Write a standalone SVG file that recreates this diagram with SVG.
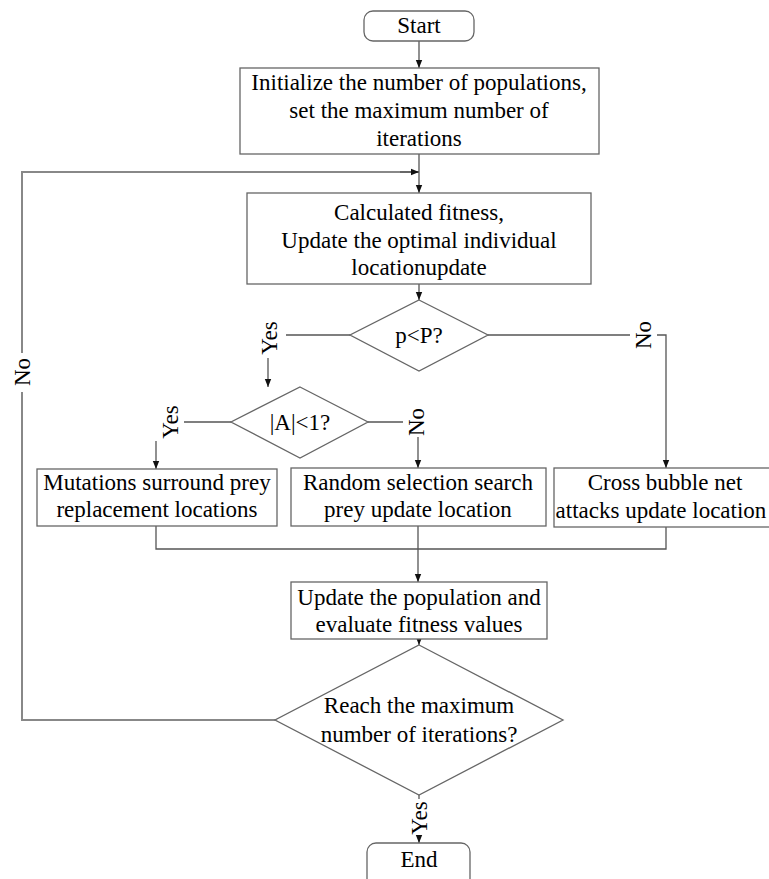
<svg xmlns="http://www.w3.org/2000/svg" width="769" height="879" viewBox="0 0 769 879">
<style>
.n{fill:#fff;stroke:#666;stroke-width:1.3}
.t{font-family:"Liberation Serif",serif;font-size:23px;fill:#000;text-anchor:middle}
.c{fill:none;stroke:#555;stroke-width:1.3}
.lp{fill:none;stroke:#888;stroke-width:2}
</style>
<defs>
<marker id="a" viewBox="0 0 10 10" refX="10" refY="5" markerWidth="8" markerHeight="8" markerUnits="userSpaceOnUse" orient="auto">
<path d="M0,1 L10,5 L0,9 z" fill="#111"/>
</marker>
</defs>
<g id="connectors">
<line class="c" x1="419" y1="41" x2="419" y2="68" marker-end="url(#a)"/>
<line class="c" x1="419" y1="154" x2="419" y2="193" marker-end="url(#a)"/>
<line class="c" x1="419" y1="284" x2="419" y2="300" marker-end="url(#a)"/>
<polyline class="c" points="350,335 286,335"/>
<line class="c" x1="268" y1="358" x2="268" y2="387" marker-end="url(#a)"/>
<polyline class="c" points="488,335 630,335"/>
<polyline class="c" points="657,335 666,335 666,468" marker-end="url(#a)"/>
<polyline class="c" points="231,422 184,422"/>
<line class="c" x1="156" y1="441" x2="156" y2="469" marker-end="url(#a)"/>
<polyline class="c" points="368,422 403,422"/>
<line class="c" x1="418" y1="437" x2="418" y2="468" marker-end="url(#a)"/>
<polyline class="c" points="156,526 156,549 666,549 666,527"/>
<line class="c" x1="418" y1="526" x2="418" y2="582" marker-end="url(#a)"/>
<line class="c" x1="419" y1="639" x2="419" y2="645" marker-end="url(#a)"/>
<polyline class="lp" points="275,720 22,720 22,392"/>
<polyline class="lp" points="22,353 22,172 419,172"/>
<line class="c" x1="400" y1="172" x2="419" y2="172" marker-end="url(#a)"/>
<line class="c" x1="419" y1="795" x2="419" y2="799"/>
<line class="c" x1="419" y1="836" x2="419" y2="843" marker-end="url(#a)"/>
<text class="t" transform="translate(277,338) rotate(-90)">Yes</text>
<text class="t" transform="translate(651,335) rotate(-90)">No</text>
<text class="t" transform="translate(178,422) rotate(-90)">Yes</text>
<text class="t" transform="translate(424,422) rotate(-90)">No</text>
<text class="t" transform="translate(30,372) rotate(-90)">No</text>
<text class="t" transform="translate(427,818) rotate(-90)">Yes</text>
</g>
<g id="start">
<rect class="n" x="364" y="11" width="110" height="30" rx="9"/>
<text class="t" x="419" y="33">Start</text>
</g>
<g id="init">
<rect class="n" x="240" y="68" width="359" height="86"/>
<text class="t" x="419" y="90">Initialize the number of populations,</text>
<text class="t" x="419" y="118">set the maximum number of</text>
<text class="t" x="419" y="146">iterations</text>
</g>
<g id="calc">
<rect class="n" x="247" y="193" width="344" height="91"/>
<text class="t" x="419" y="220">Calculated fitness,</text>
<text class="t" x="419" y="248">Update the optimal individual</text>
<text class="t" x="419" y="275">locationupdate</text>
</g>
<g id="pP">
<polygon class="n" points="419,300 488,335 419,371 350,335"/>
<text class="t" x="419" y="343">p&lt;P?</text>
</g>
<g id="A1">
<polygon class="n" points="300,387 368,422 300,458 231,422"/>
<text class="t" x="300" y="430">|A|&lt;1?</text>
</g>
<g id="mutations">
<rect class="n" x="37" y="469" width="240" height="57"/>
<text class="t" x="157" y="490">Mutations surround prey</text>
<text class="t" x="157" y="517">replacement locations</text>
</g>
<g id="random">
<rect class="n" x="291" y="468" width="255" height="58"/>
<text class="t" x="418" y="490">Random selection search</text>
<text class="t" x="418" y="517">prey update location</text>
</g>
<g id="cross">
<rect class="n" x="554" y="468" width="224" height="59"/>
<text class="t" x="665" y="490">Cross bubble net</text>
<text class="t" x="661" y="518">attacks update location</text>
</g>
<g id="update">
<rect class="n" x="291" y="582" width="256" height="57"/>
<text class="t" x="419" y="605">Update the population and</text>
<text class="t" x="419" y="632">evaluate fitness values</text>
</g>
<g id="reach">
<polygon class="n" points="419,645 563,720 419,795 275,720"/>
<text class="t" x="419" y="713">Reach the maximum</text>
<text class="t" x="419" y="742">number of iterations?</text>
</g>
<g id="end">
<rect class="n" x="367" y="843" width="103" height="50" rx="9"/>
<text class="t" x="419" y="867">End</text>
</g>
</svg>
